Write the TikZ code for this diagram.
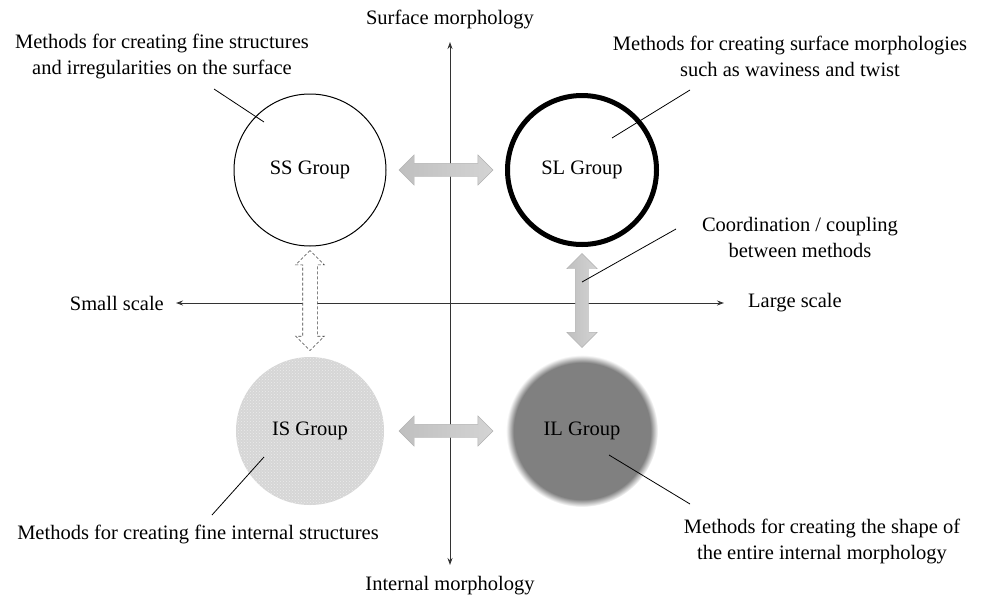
\documentclass[tikz,border=0pt]{standalone}
\usepackage{fontspec}
\setmainfont{Liberation Serif}
\usetikzlibrary{arrows.meta,positioning,calc,shapes.arrows,patterns}
\definecolor{ilgray}{HTML}{808080}
\definecolor{isgray}{HTML}{D6D6D6}
\pgfdeclareradialshading{ilblur}{\pgfpoint{0bp}{0bp}}{color(0bp)=(ilgray); color(22.5bp)=(ilgray); color(25bp)=(white); color(50bp)=(white)}
\newcommand{\txtsize}{\fontsize{20.5}{26}\selectfont}
\tikzset{
  grp/.style   = {circle, minimum size=152pt, inner sep=0pt, font=\txtsize},
  note/.style  = {align=center, inner sep=0pt, font=\txtsize},
  axis/.style  = {{Stealth[length=7pt,width=5pt]}-{Stealth[length=7pt,width=5pt]},
                  line width=0.9pt, draw=black!80},
  lead/.style  = {line width=0.8pt},
  link/.style  = {double arrow, double arrow head extend=8.5pt, minimum height=94pt,
                  inner xsep=0pt, inner ysep=6.5pt, draw=black!30,
                  left color=black!25, right color=black!17},
  dlink/.style = {double arrow, double arrow head extend=7pt, minimum height=100pt,
                  inner xsep=0pt, inner ysep=7pt, draw=black!75, densely dashed,
                  line width=0.6pt, fill=white},
}

\begin{document}
\begin{tikzpicture}[x=1pt, y=-1pt]
  \useasboundingbox (0,0) rectangle (982,600);
  % axes
  \coordinate (top) at (450,42);
  \coordinate (bot) at (450,565);
  \coordinate (lft) at (176,303);
  \coordinate (rgt) at (724,303);
  \draw[axis] (bot) -- (top);
  \draw[axis] (lft) -- (rgt);
  \node[note] (sfc) at (450,19) {Surface morphology};
  \node[note] (int) at (450,586) {Internal morphology};
  \node[note, left=12pt of lft] (small) {Small scale};
  \node[note, right=24pt of rgt] (large) {Large scale};

  % groups
  \node[grp, draw, line width=1pt] (ss) at (310,170) {SS Group};
  \node[grp, draw, line width=5pt, minimum size=149pt] (sl) at (582,170) {SL Group};
  \node[grp, fill=isgray, postaction={pattern=crosshatch dots, pattern color=black!8},
        minimum size=148pt] (is) at (310,431) {IS Group};
  \node[grp, shade, shading=ilblur] (il) at (582,431) {IL Group};

  % links between groups
  \node[link] (sslk) at ($(ss)!0.5!(sl)$) {};
  \node[link] (islk) at ($(is)!0.5!(il)$) {};
  \node[link, rotate=90] (lllk) at ($(sl)!0.5!(il)$) {};
  \node[dlink, rotate=90] (sslk2) at ($(ss)!0.5!(is)$) {};

  % notes
  \node[note] (ssnote) at (162,56) {Methods for creating fine structures\\ and irregularities on the surface};
  \node[note] (slnote) at (790,56) {Methods for creating surface morphologies\\ such as waviness and twist};
  \node[note] (cplnote) at (800,237) {Coordination / coupling\\ between methods};
  \node[note] (isnote) at (198,534) {Methods for creating fine internal structures};
  \node[note] (ilnote) at (822,541) {Methods for creating the shape of\\ the entire internal morphology};

  % leader lines
  \coordinate (ssa) at (214,89);   \coordinate (ssb) at (264,122);
  \coordinate (sla) at (690,90);   \coordinate (slb) at (612,138);
  \coordinate (cpa) at (676,229);  \coordinate (cpb) at (582,282);
  \coordinate (isa) at (212,515);  \coordinate (isb) at (264,457);
  \coordinate (ila) at (690,504);  \coordinate (ilb) at (609,455);
  \draw[lead] (ssa) -- (ssb);
  \draw[lead] (sla) -- (slb);
  \draw[lead] (cpa) -- (cpb);
  \draw[lead] (isa) -- (isb);
  \draw[lead] (ila) -- (ilb);
\end{tikzpicture}
\end{document}
